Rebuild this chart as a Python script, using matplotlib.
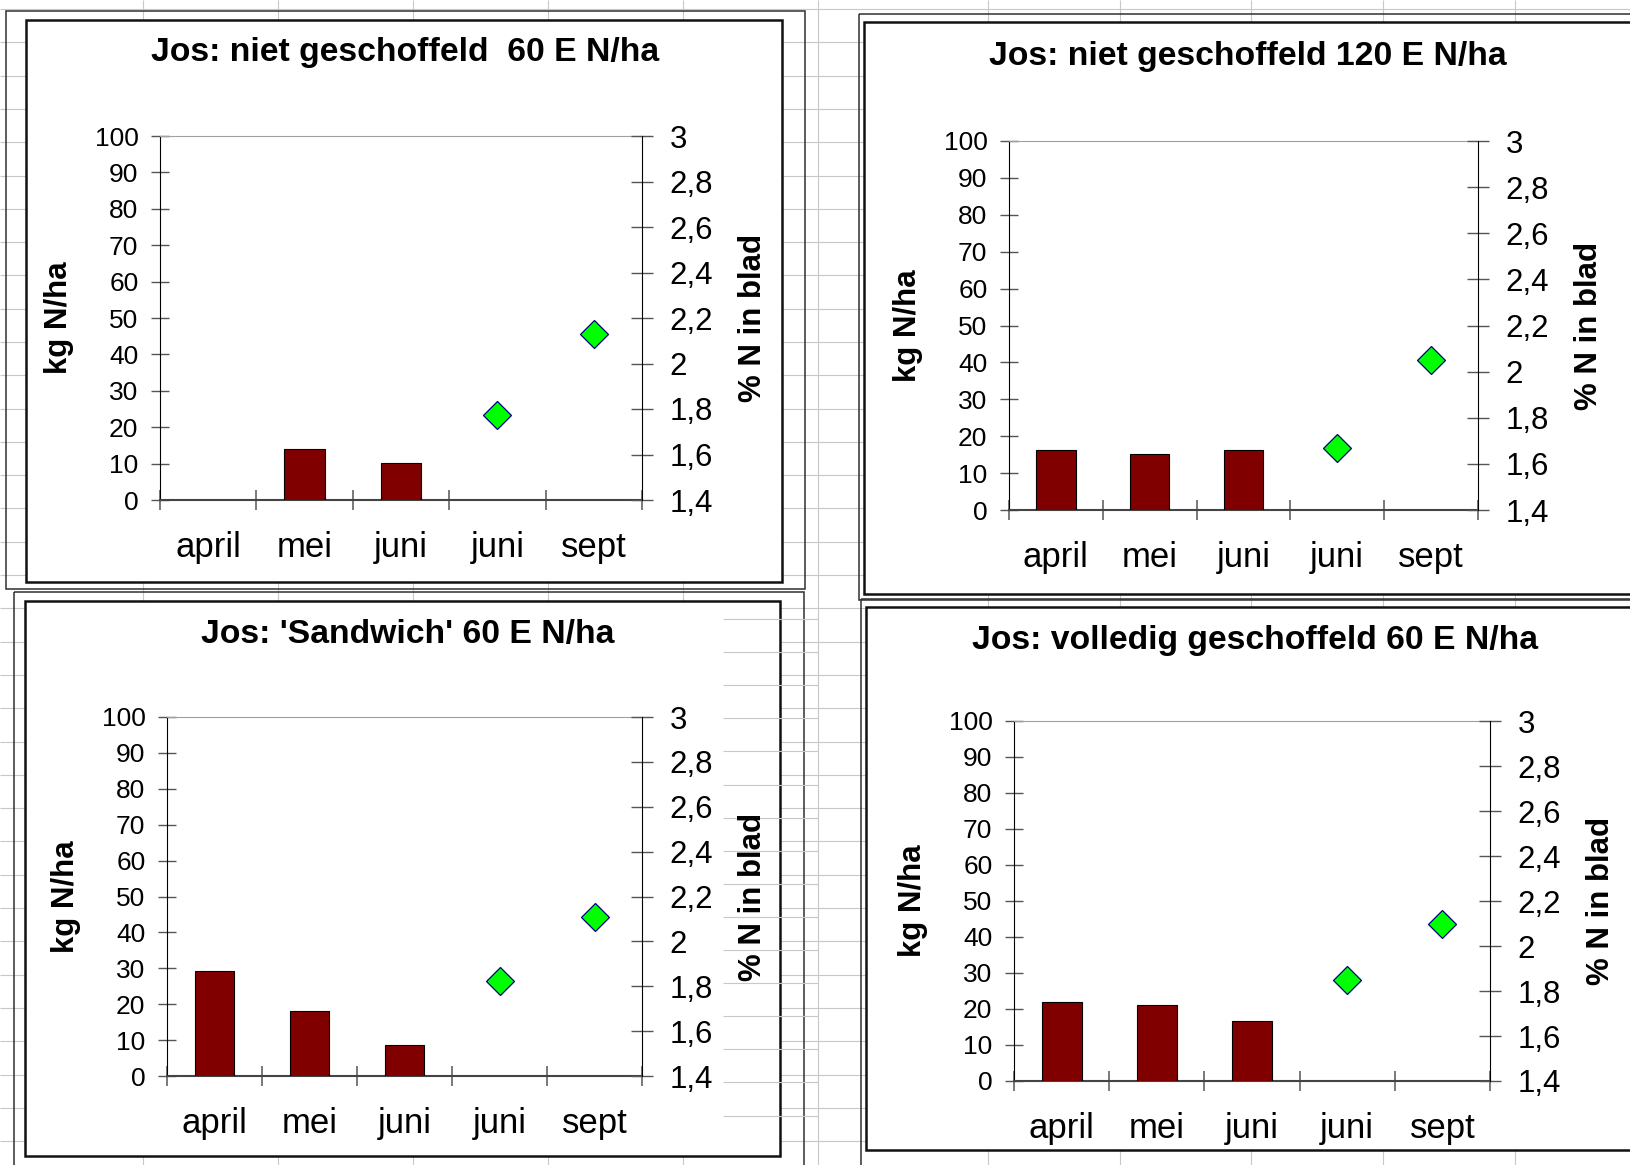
import numpy as np
import matplotlib
matplotlib.use("Agg")
import matplotlib.pyplot as plt
from matplotlib.patches import Rectangle
from matplotlib.ticker import FixedLocator, FuncFormatter
from matplotlib.transforms import ScaledTranslation

plt.rcParams['font.family'] = ['Liberation Sans', 'DejaVu Sans']

# Gegevens
maanden = ['april', 'mei', 'juni', 'juni', 'sept']
titels = ['Jos: niet geschoffeld  60 E N/ha',
          'Jos: niet geschoffeld 120 E N/ha',
          "Jos: 'Sandwich' 60 E N/ha",
          'Jos: volledig geschoffeld 60 E N/ha']
# kg N/ha (staven) voor april, mei, juni
kg_niet60 = [np.nan, 14.0, 10.1]
kg_niet120 = [16.2, 15.1, 16.2]
kg_sandwich = [29.3, 18.0, 8.7]
kg_volledig = [22.0, 21.0, 16.7]
# % N in blad (ruiten) voor juni, sept
pct_niet60 = [1.775, 2.13]
pct_niet120 = [1.67, 2.05]
pct_sandwich = [1.825, 2.11]
pct_volledig = [1.85, 2.10]

kg_alle = [kg_niet60, kg_niet120, kg_sandwich, kg_volledig]
pct_alle = [pct_niet60, pct_niet120, pct_sandwich, pct_volledig]

W, H = 1630, 1165
fig = plt.figure(figsize=(W / 100, H / 100), dpi=100)

# achtergrond: werkblad-raster in pixels
bg = fig.add_axes([0, 0, 1, 1])
bg.set_xlim(0, W)
bg.set_ylim(H, 0)
bg.axis('off')
kolommen = [143, 278, 413, 548, 683, 818, 988, 1120, 1251, 1383, 1515]
rijen = 9 + 33.3 * np.arange(36)
bg.hlines(rijen, 0, W, color='#c8c8c8', lw=0.8, zorder=0)
bg.vlines(kolommen, 0, H, color='#c8c8c8', lw=0.8, zorder=0)

# plaats van elke grafiek (pixels): plotvlak, buitenkader, binnenkader, titel
plotvlak = [(160, 136, 642, 500), (1009, 141, 1478, 510),
            (167, 717, 642, 1076), (1014, 721, 1490, 1081)]
buiten = [(6, 11, 805, 589), (859, 14, 1645, 600),
          (14, 592, 804, 1180), (861, 599, 1645, 1180)]
binnen = [(26, 20, 782, 582), (864, 22, 1645, 594),
          (25, 601, 780, 1156), (866, 607, 1645, 1150)]
titelpos = [(405, 52), (1248, 57), (408, 635), (1255, 640)]

for (l, t, r, b) in buiten:
    bg.add_patch(Rectangle((l, t), r - l, b - t, fill=False,
                           edgecolor='#303030', lw=1.1, zorder=1))
for (l, t, r, b) in binnen:
    bg.add_patch(Rectangle((l, t), r - l, b - t, facecolor='white',
                           edgecolor='#111111', lw=1.8, zorder=2))

# rasterlijnen die door de 'Sandwich'-grafiek heen lopen
bg.hlines(619 + 33.1 * np.arange(16), 723, 818, color='#c8c8c8', lw=0.8, zorder=3)

x = np.arange(len(maanden))
komma = FuncFormatter(lambda v, p: f'{v:g}'.replace('.', ','))

for i in range(4):
    l, t, r, b = plotvlak[i]
    ax = fig.add_axes([l / W, 1 - b / H, (r - l) / W, (b - t) / H])
    ax2 = ax.twinx()

    ax.bar(x[:3], kg_alle[i], width=0.42, color='#800000',
           edgecolor='black', linewidth=0.8, zorder=3)
    ax2.plot(x[3:], pct_alle[i], ls='none', marker='D', ms=14.5,
             mfc='#00ff00', mec='#000080', mew=0.9, clip_on=False)

    ax.set_xlim(-0.5, 4.5)
    ax.set_ylim(0, 100)
    ax2.set_ylim(1.4, 3.0)
    ax.set_yticks(np.arange(0, 101, 10))
    ax2.set_yticks(np.arange(1.4, 3.01, 0.2))
    ax2.yaxis.set_major_formatter(komma)

    ax.set_xticks(x)
    ax.set_xticklabels(maanden)
    ax.xaxis.set_minor_locator(FixedLocator(np.arange(-0.5, 4.6, 1)))
    ax.tick_params(axis='x', which='major', length=0, pad=22, labelsize=25)
    ax.tick_params(axis='x', which='minor', direction='inout', length=14,
                   width=1.1, color='#555555')
    ax.tick_params(axis='y', direction='inout', length=13, width=1.0,
                   color='#555555', pad=9, labelsize=19)
    ax2.tick_params(axis='y', direction='inout', length=16, width=1.0,
                    color='#555555', pad=12, labelsize=22.5)

    ax.spines['right'].set_visible(False)
    ax.spines['top'].set_color('#a0a0a0')
    ax.spines['left'].set_color('black')
    ax.spines['left'].set_linewidth(0.8)
    ax.spines['bottom'].set_color('#444444')
    ax.spines['bottom'].set_linewidth(1.5)
    for s in ['left', 'top', 'bottom']:
        ax2.spines[s].set_visible(False)
    ax2.spines['right'].set_color('black')
    ax2.spines['right'].set_linewidth(0.8)

    ax.text(0, 0.5, 'kg N/ha', rotation=90, ha='center', va='center',
            fontsize=22.5, fontweight='bold',
            transform=ax.transAxes + ScaledTranslation(-1.01, 0, fig.dpi_scale_trans))
    ax.text(1, 0.5, '% N in blad', rotation=90, ha='center', va='center',
            fontsize=22.5, fontweight='bold',
            transform=ax.transAxes + ScaledTranslation(1.11, 0, fig.dpi_scale_trans))

    tx, ty = titelpos[i]
    fig.text(tx / W, 1 - ty / H, titels[i], ha='center', va='center',
             fontsize=24.3, fontweight='bold')

fig.savefig('out.png', dpi=100)
